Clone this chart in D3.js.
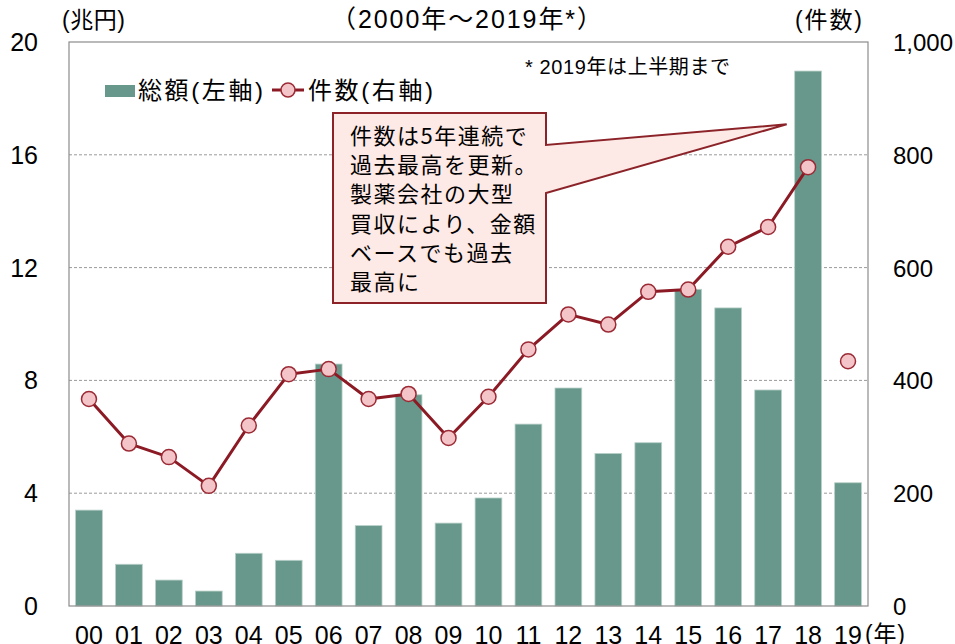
<!DOCTYPE html>
<html><head><meta charset="utf-8">
<script src="https://cdn.jsdelivr.net/npm/d3@7"></script>
<style>
html,body{margin:0;padding:0;background:#fff;}
svg{display:block;}
</style></head>
<body>
<svg id="chart" width="955" height="644"></svg>
<script>
const years = ["00","01","02","03","04","05","06","07","08","09","10","11","12","13","14","15","16","17","18","19"];
const totalAmount = [3.40,1.48,0.92,0.53,1.87,1.62,8.58,2.85,7.49,2.94,3.83,6.45,7.73,5.41,5.79,11.23,10.57,7.66,18.97,4.37];
const dealCount = [367,288,264,213,320,411,420,367,376,298,371,455,517,499,557,561,637,672,778,434];
const leftTicks = [0,4,8,12,16,20];
const rightTicks = [0,200,400,600,800,1000];
const noteLines = ["件数は5年連続で","過去最高を更新。","製薬会社の大型","買収により、金額","ベースでも過去","最高に"];

const svg = d3.select("#chart");
const L = 69, R = 868, T = 42, B = 606;
const numFont = "'Liberation Sans', Arial, sans-serif";
const mixFont = "'Liberation Sans', 'Noto Sans CJK JP', sans-serif";
const jpFont = "'Noto Sans CJK JP', sans-serif";

const x = d3.scaleBand().domain(years).range([L, R]).paddingInner(0.33).paddingOuter(0.165);
const yL = d3.scaleLinear().domain([0, 20]).range([B, T]);
const yR = d3.scaleLinear().domain([0, 1000]).range([B, T]);

// gridlines
svg.append("g").selectAll("line").data(leftTicks.filter(d => d > 0 && d < 20)).join("line")
  .attr("x1", L).attr("x2", R).attr("y1", d => yL(d)).attr("y2", d => yL(d))
  .attr("stroke", "#9a9a9a").attr("stroke-width", 1).attr("stroke-dasharray", "3,2");

// bars
svg.append("g").selectAll("rect").data(years).join("rect")
  .attr("x", d => x(d)).attr("width", x.bandwidth())
  .attr("y", (d, i) => yL(totalAmount[i])).attr("height", (d, i) => B - yL(totalAmount[i]))
  .attr("fill", "#67988b").attr("stroke", "#b9d0c9").attr("stroke-width", 0.8);

// plot border
svg.append("rect").attr("x", L).attr("y", T).attr("width", R - L).attr("height", B - T)
  .attr("fill", "none").attr("stroke", "#8c8c8c").attr("stroke-width", 1.2);

// line (2000-2018)
const cx = d => x(d) + x.bandwidth() / 2;
const line = d3.line().x(d => cx(d.y)).y(d => yR(d.v));
const pts = years.map((y, i) => ({y, v: dealCount[i]}));
svg.append("path").datum(pts.slice(0, 19)).attr("d", line)
  .attr("fill", "none").attr("stroke", "#8b1a24").attr("stroke-width", 3).attr("stroke-linejoin", "round");
svg.append("g").selectAll("circle").data(pts).join("circle")
  .attr("cx", d => cx(d.y)).attr("cy", d => yR(d.v)).attr("r", 7.5)
  .attr("fill", "#f3c4c8").attr("stroke", "#9b2a35").attr("stroke-width", 1.5);

// left axis labels
svg.append("g").selectAll("text").data(leftTicks).join("text")
  .attr("x", 38).attr("y", d => yL(d) + 9).attr("text-anchor", "end")
  .attr("font-family", numFont).attr("font-size", 25).attr("fill", "#000").text(d => d);
// right axis labels
svg.append("g").selectAll("text").data(rightTicks).join("text")
  .attr("x", 893).attr("y", d => yR(d) + 9).attr("text-anchor", "start")
  .attr("font-family", numFont).attr("font-size", 24).attr("fill", "#000").text(d => d3.format(",")(d));
// x labels
svg.append("g").selectAll("text").data(years).join("text")
  .attr("x", d => cx(d)).attr("y", 644).attr("text-anchor", "middle")
  .attr("font-family", numFont).attr("font-size", 25).attr("fill", "#000").text(d => d);
svg.append("text").attr("x", 865).attr("y", 642).attr("font-family", mixFont).attr("font-size", 23)
  .attr("textLength", 40).attr("lengthAdjust", "spacing").text("(年)");

// titles
svg.append("text").attr("x", 331).attr("y", 28)
  .attr("font-family", mixFont).attr("font-size", 25)
  .attr("textLength", 271).attr("lengthAdjust", "spacing").text("（2000年～2019年*）");
svg.append("text").attr("x", 62).attr("y", 28)
  .attr("font-family", mixFont).attr("font-size", 23)
  .attr("textLength", 63).attr("lengthAdjust", "spacing").text("(兆円)");
svg.append("text").attr("x", 795).attr("y", 28)
  .attr("font-family", mixFont).attr("font-size", 23)
  .attr("textLength", 67).attr("lengthAdjust", "spacing").text("(件数)");
svg.append("text").attr("x", 525).attr("y", 74)
  .attr("font-family", mixFont).attr("font-size", 20).attr("letter-spacing", 0.6).text("* 2019年は上半期まで");

// legend
svg.append("rect").attr("x", 105).attr("y", 85).attr("width", 30).attr("height", 12).attr("fill", "#67988b");
svg.append("text").attr("x", 138).attr("y", 99).attr("font-family", mixFont).attr("font-size", 24)
  .attr("textLength", 125).attr("lengthAdjust", "spacing").text("総額(左軸)");
svg.append("line").attr("x1", 272).attr("x2", 304).attr("y1", 90).attr("y2", 90).attr("stroke", "#8b1a24").attr("stroke-width", 3);
svg.append("circle").attr("cx", 288).attr("cy", 90).attr("r", 7).attr("fill", "#f3c4c8").attr("stroke", "#9b2a35").attr("stroke-width", 1.5);
svg.append("text").attr("x", 308).attr("y", 99).attr("font-family", mixFont).attr("font-size", 24)
  .attr("textLength", 125).attr("lengthAdjust", "spacing").text("件数(右軸)");

// callout
const bx0 = 333, by0 = 113, bx1 = 546, by1 = 303;
const tipX = x("18") - 8, tipY = yR(854);
const callout = d3.path();
callout.moveTo(bx0, by0); callout.lineTo(bx1, by0); callout.lineTo(bx1, 145);
callout.lineTo(tipX, tipY); callout.lineTo(bx1, 193); callout.lineTo(bx1, by1);
callout.lineTo(bx0, by1); callout.closePath();
svg.append("path").attr("d", callout.toString()).attr("fill", "#fde9e5").attr("stroke", "#8b2329").attr("stroke-width", 2);
svg.append("g").selectAll("text").data(noteLines).join("text")
  .attr("x", 350).attr("y", (d, i) => 144 + i * 29.2)
  .attr("font-family", jpFont).attr("font-size", 22).attr("letter-spacing", 1.5).attr("fill", "#000").text(d => d);
</script>
</body></html>
